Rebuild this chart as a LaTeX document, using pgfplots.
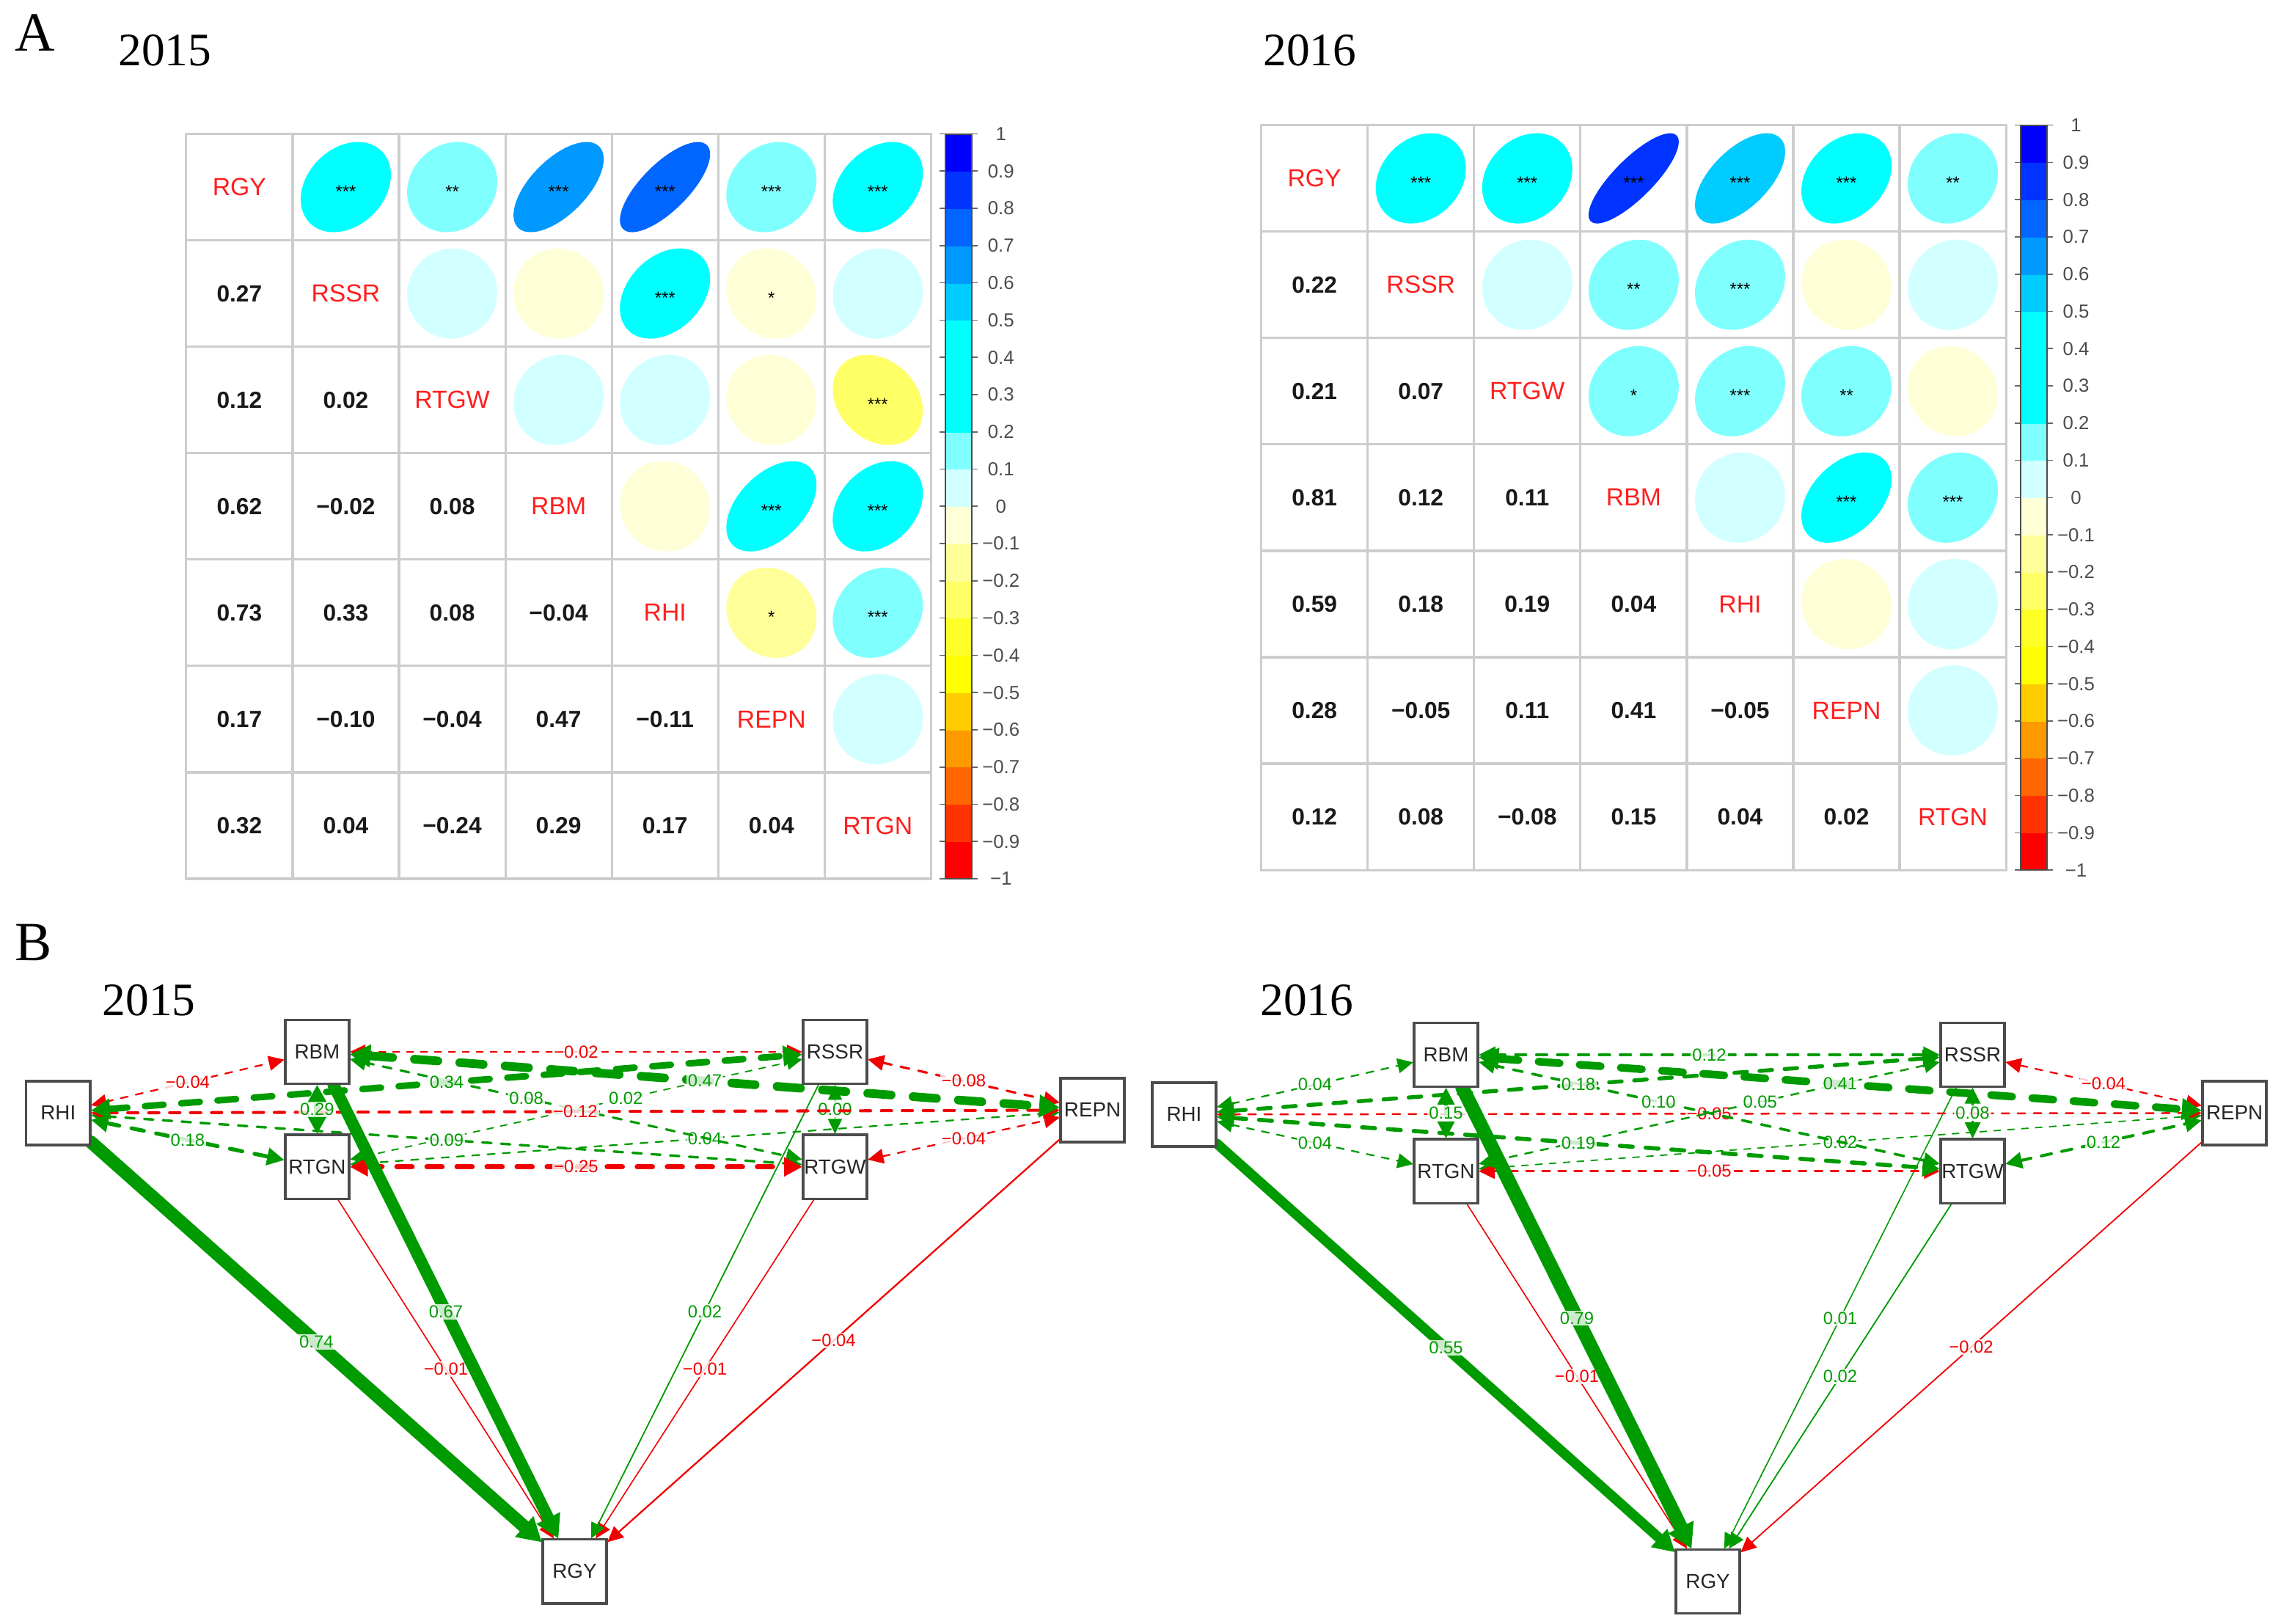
\documentclass[border=0pt]{standalone}
\usepackage{fontspec}
\setmainfont{Liberation Sans}
\newfontfamily\yearfont{Liberation Serif}
\usepackage{pgfplots}
\usepackage{pgfplotstable}
\pgfplotsset{compat=1.18}
\usetikzlibrary{arrows.meta}

\definecolor{pc}{RGB}{0,155,0}
\definecolor{nc}{RGB}{240,0,0}
\definecolor{gridc}{RGB}{205,205,205}
\definecolor{diagc}{RGB}{255,30,30}

\pgfplotsset{
  colormap={corrmap}{rgb255=(255,0,0) rgb255=(255,51,0) rgb255=(255,102,0)
    rgb255=(255,153,0) rgb255=(255,204,0) rgb255=(255,255,0) rgb255=(255,255,40)
    rgb255=(255,255,102) rgb255=(255,255,153) rgb255=(255,255,215) rgb255=(210,255,255)
    rgb255=(128,255,255) rgb255=(0,255,255) rgb255=(0,255,255) rgb255=(0,255,255)
    rgb255=(0,204,255) rgb255=(0,153,255) rgb255=(0,102,255) rgb255=(0,51,255)
    rgb255=(0,0,255)},
  corrax/.style={
    scale only axis, width=256pt, height=256pt,
    xmin=0.5, xmax=7.5, ymin=0.5, ymax=7.5, y dir=reverse, enlargelimits=false,
    xtick={0.5,1.5,...,7.5}, ytick={0.5,1.5,...,7.5},
    xticklabels={,,,,,,,}, yticklabels={,,,,,,,}, major tick length=0pt,
    xmajorgrids, ymajorgrids, grid style={gridc, line width=0.8pt},
    axis line style={gridc, line width=0.8pt},
    clip=false,
    colormap name=corrmap, colormap access=piecewise constant,
    point meta min=-1, point meta max=1,
    colorbar,
    colorbar style={
      scale only axis, width=9pt, height=256pt,
      at={(parent axis.north east)}, anchor=north west, xshift=-3.5pt,
      ytick={-1,-0.9,-0.8,-0.7,-0.6,-0.5,-0.4,-0.3,-0.2,-0.1,0,0.1,0.2,0.3,0.4,0.5,0.6,0.7,0.8,0.9,1},
      yticklabels={−1,−0.9,−0.8,−0.7,−0.6,−0.5,−0.4,−0.3,−0.2,−0.1,0,0.1,0.2,0.3,0.4,0.5,0.6,0.7,0.8,0.9,1},
      yticklabel pos=right, tick align=outside, major tick length=2pt,
      tick style={black!60, line width=0.4pt},
      yticklabel style={anchor=center, xshift=8pt, font=\fontsize{6.5}{7}\selectfont, text=black!70},
      axis line style={black!70, line width=0.5pt},
    },
  },
}

% ellipse of corrplot: semi-axes sqrt(1+r) and sqrt(1-r) on the diagonals
\pgfdeclareplotmark{corrl}{%
  \pgfmathsetmacro\ea{15.5*sqrt((1+\rr)/2)}%
  \pgfmathsetmacro\eb{15.5*sqrt((1-\rr)/2)}%
  \pgfpathellipse{\pgfpointorigin}{\pgfpoint{\ea pt}{\ea pt}}{\pgfpoint{-\eb pt}{\eb pt}}%
  \pgfusepathqfill}

\tikzset{elab/.style={font=\fontsize{6}{6}\selectfont, fill=white, fill opacity=0.8,
  text opacity=1, inner sep=0.5pt}}

% path edge between two box centres, clipped to the boxes; #1 = label position
\newcommand\pedge[8][0.5]{%
  \pgfmathsetmacro\edx{#4-(#2)}%
  \pgfmathsetmacro\edy{#5-(#3)}%
  \pgfmathsetmacro\et{22.5/max(abs(\edx),abs(\edy))}%
  \pgfmathsetmacro\xa{#2+\et*\edx}%
  \pgfmathsetmacro\ya{#3+\et*\edy}%
  \pgfmathsetmacro\xb{#4-\et*\edx}%
  \pgfmathsetmacro\yb{#5-\et*\edy}%
  \pgfmathsetmacro\lw{0.35+5.6*abs(#6)}%
  \pgfmathsetmacro\don{1.2+2.3*\lw}%
  \pgfmathsetmacro\doff{1.6+2.0*\lw}%
  \ifdim #6pt<0pt \def\ecol{nc}\else\def\ecol{pc}\fi
  \if d#8%
    \edef\estyle{dash pattern=on \don pt off \doff pt, {Triangle[length=5pt 0.7,width=4.5pt 1]}-{Triangle[length=5pt 0.7,width=4.5pt 1]}}%
  \else
    \edef\estyle{solid, -{Triangle[length=5pt 0.7,width=4.5pt 1]}}%
  \fi
  \edef\etmp{\noexpand\addplot[\ecol, line width=\lw pt, line cap=round, \estyle] coordinates {(\xa,\ya) (\xb,\yb)} node[pos=#1, elab, text=\ecol] {#7};}%
  \etmp
}

\pgfplotstableread{
i j r s lab
1 2 0.27 *** 0.27
1 3 0.12 ** 0.12
1 4 0.62 *** 0.62
1 5 0.73 *** 0.73
1 6 0.17 *** 0.17
1 7 0.32 *** 0.32
2 3 0.02 {} 0.02
2 4 -0.02 {} −0.02
2 5 0.33 *** 0.33
2 6 -0.10 * −0.10
2 7 0.04 {} 0.04
3 4 0.08 {} 0.08
3 5 0.08 {} 0.08
3 6 -0.04 {} −0.04
3 7 -0.24 *** −0.24
4 5 -0.04 {} −0.04
4 6 0.47 *** 0.47
4 7 0.29 *** 0.29
5 6 -0.11 * −0.11
5 7 0.17 *** 0.17
6 7 0.04 {} 0.04
}\corrA

\pgfplotstableread{
i j r s lab
1 2 0.22 *** 0.22
1 3 0.21 *** 0.21
1 4 0.81 *** 0.81
1 5 0.59 *** 0.59
1 6 0.28 *** 0.28
1 7 0.12 ** 0.12
2 3 0.07 {} 0.07
2 4 0.12 ** 0.12
2 5 0.18 *** 0.18
2 6 -0.05 {} −0.05
2 7 0.08 {} 0.08
3 4 0.11 * 0.11
3 5 0.19 *** 0.19
3 6 0.11 ** 0.11
3 7 -0.08 {} −0.08
4 5 0.04 {} 0.04
4 6 0.41 *** 0.41
4 7 0.15 *** 0.15
5 6 -0.05 {} −0.05
5 7 0.04 {} 0.04
6 7 0.02 {} 0.02
}\corrB

\pgfplotstableread{
k name
1 RGY
2 RSSR
3 RTGW
4 RBM
5 RHI
6 REPN
7 RTGN
}\vnames

\pgfplotstableread{
x y name
40 765 RHI
218 723 RBM
218 802 RTGN
574 723 RSSR
574 802 RTGW
751 763 REPN
395 1080 RGY
814 766 RHI
994 725 RBM
994 805 RTGN
1356 725 RSSR
1356 805 RTGW
1536 765 REPN
1174 1087 RGY
}\boxes

\newcommand\corrplots[1]{%
  \addplot[scatter, only marks, mark=corrl,
    visualization depends on={\thisrow{r} \as \rr},
    point meta=\thisrow{r}] table[x=j, y=i] {#1};
  \addplot[only marks, mark=none, nodes near coords, point meta=explicit symbolic,
    nodes near coords style={anchor=center, yshift=-1.5pt, text=black,
      font=\fontsize{6}{6}\selectfont}] table[x=j, y=i, meta=s] {#1};
  \addplot[only marks, mark=none, nodes near coords, point meta=explicit symbolic,
    nodes near coords style={anchor=center, text=black!90,
      font=\bfseries\fontsize{8}{8}\selectfont}] table[x=i, y=j, meta=lab] {#1};
  \addplot[only marks, mark=none, nodes near coords, point meta=explicit symbolic,
    nodes near coords style={anchor=center, text=diagc,
      font=\fontsize{8.5}{8.5}\selectfont}] table[x=k, y=k, meta=name] {\vnames};
}

\begin{document}
\begin{tikzpicture}
\useasboundingbox (0,0) rectangle (784pt,-558pt);

\node[anchor=base west, inner sep=0pt, font=\yearfont\fontsize{19}{19}\selectfont] at (5pt,-17.5pt) {A};
\node[anchor=base west, inner sep=0pt, font=\yearfont\fontsize{16}{16}\selectfont] at (40.5pt,-22.5pt) {2015};
\node[anchor=base west, inner sep=0pt, font=\yearfont\fontsize{16}{16}\selectfont] at (434pt,-22.5pt) {2016};
\node[anchor=base west, inner sep=0pt, font=\yearfont\fontsize{19}{19}\selectfont] at (5pt,-330pt) {B};
\node[anchor=base west, inner sep=0pt, font=\yearfont\fontsize{16}{16}\selectfont] at (35pt,-349pt) {2015};
\node[anchor=base west, inner sep=0pt, font=\yearfont\fontsize{16}{16}\selectfont] at (433pt,-349pt) {2016};

\begin{axis}[corrax, at={(64pt,-302pt)}, anchor=south west]
\corrplots{\corrA}
\end{axis}

\begin{axis}[corrax, at={(433.5pt,-299pt)}, anchor=south west]
\corrplots{\corrB}
\end{axis}

\begin{axis}[at={(0pt,-558pt)}, anchor=south west, scale only axis,
  width=784pt, height=243pt, xmin=0, xmax=1568, ymin=630, ymax=1116,
  y dir=reverse, enlargelimits=false, axis lines=none, clip=false]
% 2015: RHI(40,765) RBM(218,723) RTGN(218,802) RSSR(574,723) RTGW(574,802) REPN(751,763) RGY(395,1080)
\pedge{574}{723}{574}{802}{0.00}{0.00}{d}
\pedge{218}{802}{395}{1080}{-0.01}{−0.01}{s}
\pedge{574}{802}{395}{1080}{-0.01}{−0.01}{s}
\pedge{574}{723}{395}{1080}{0.02}{0.02}{s}
\pedge{218}{723}{574}{723}{-0.02}{−0.02}{d}
\pedge[0.61]{218}{802}{574}{723}{0.02}{0.02}{d}
\pedge{40}{765}{218}{723}{-0.04}{−0.04}{d}
\pedge{218}{802}{751}{763}{0.04}{0.04}{d}
\pedge{574}{802}{751}{763}{-0.04}{−0.04}{d}
\pedge{751}{763}{395}{1080}{-0.04}{−0.04}{s}
\pedge{574}{723}{751}{763}{-0.08}{−0.08}{d}
\pedge[0.39]{218}{723}{574}{802}{0.08}{0.08}{d}
\pedge{40}{765}{574}{802}{0.09}{0.09}{d}
\pedge{40}{765}{751}{763}{-0.12}{−0.12}{d}
\pedge{40}{765}{218}{802}{0.18}{0.18}{d}
\pedge{218}{802}{574}{802}{-0.25}{−0.25}{d}
\pedge{218}{723}{218}{802}{0.29}{0.29}{d}
\pedge{40}{765}{574}{723}{0.34}{0.34}{d}
\pedge{218}{723}{751}{763}{0.47}{0.47}{d}
\pedge{218}{723}{395}{1080}{0.67}{0.67}{s}
\pedge{40}{765}{395}{1080}{0.74}{0.74}{s}
% 2016: RHI(814,766) RBM(994,725) RTGN(994,805) RSSR(1356,725) RTGW(1356,805) REPN(1536,765) RGY(1174,1087)
\pedge{994}{805}{1174}{1087}{-0.01}{−0.01}{s}
\pedge{1356}{725}{1174}{1087}{0.01}{0.01}{s}
\pedge{1356}{805}{1174}{1087}{0.02}{0.02}{s}
\pedge{1536}{765}{1174}{1087}{-0.02}{−0.02}{s}
\pedge{994}{805}{1536}{765}{0.02}{0.02}{d}
\pedge{814}{766}{994}{725}{0.04}{0.04}{d}
\pedge{814}{766}{994}{805}{0.04}{0.04}{d}
\pedge{1356}{725}{1536}{765}{-0.04}{−0.04}{d}
\pedge{814}{766}{1536}{765}{-0.05}{−0.05}{d}
\pedge{994}{805}{1356}{805}{-0.05}{−0.05}{d}
\pedge[0.61]{994}{805}{1356}{725}{0.05}{0.05}{d}
\pedge{1356}{725}{1356}{805}{0.08}{0.08}{d}
\pedge[0.39]{994}{725}{1356}{805}{0.10}{0.10}{d}
\pedge{994}{725}{1356}{725}{0.12}{0.12}{d}
\pedge{1356}{805}{1536}{765}{0.12}{0.12}{d}
\pedge{994}{725}{994}{805}{0.15}{0.15}{d}
\pedge{814}{766}{1356}{725}{0.18}{0.18}{d}
\pedge{814}{766}{1356}{805}{0.19}{0.19}{d}
\pedge{994}{725}{1536}{765}{0.41}{0.41}{d}
\pedge{814}{766}{1174}{1087}{0.55}{0.55}{s}
\pedge{994}{725}{1174}{1087}{0.79}{0.79}{s}
% boxes
\addplot[only marks, mark=none, nodes near coords, point meta=explicit symbolic,
  nodes near coords style={anchor=center, draw=black!70, line width=0.9pt, fill=white,
    text=black!85, minimum width=22pt, minimum height=22pt, inner sep=0pt,
    font=\fontsize{7}{7}\selectfont}] table[x=x, y=y, meta=name] {\boxes};
\end{axis}
\end{tikzpicture}
\end{document}
